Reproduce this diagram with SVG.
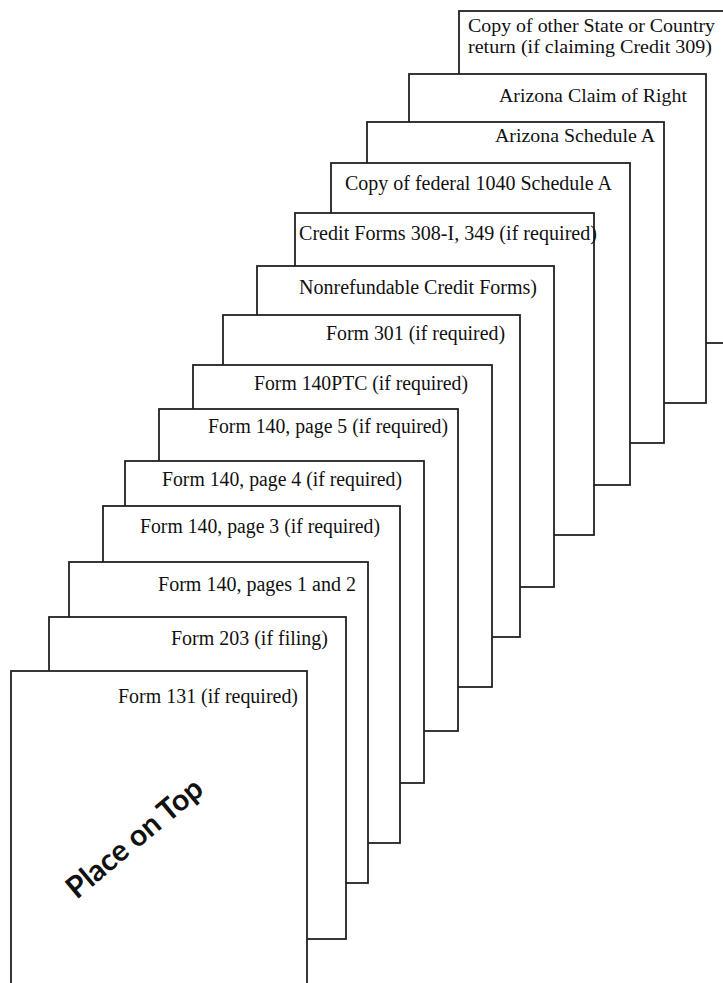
<svg xmlns="http://www.w3.org/2000/svg" width="723" height="983" viewBox="0 0 723 983">
<style>
.pg{fill:#fff;stroke:#222;stroke-width:1.8}
.t{font-family:"Liberation Serif","Times New Roman",serif;font-size:20px;fill:#111}
.s{font-size:18.5px}
.big{font-family:"Lato","Open Sans","Liberation Sans",sans-serif;font-weight:bold;font-size:30px;fill:#111}
</style>
<rect width="723" height="983" fill="#fff"/>
<g id="page-other-state">
<rect class="pg" x="459" y="11" width="298" height="332"/>
<text class="t s" x="468" y="32" textLength="247" lengthAdjust="spacingAndGlyphs">Copy of other State or Country</text>
<text class="t s" x="468" y="53" textLength="244" lengthAdjust="spacingAndGlyphs">return (if claiming Credit 309)</text>
</g>
<g id="page-claim-of-right">
<rect class="pg" x="409" y="74" width="297" height="329"/>
<text class="t s" x="499" y="102" textLength="188" lengthAdjust="spacingAndGlyphs">Arizona Claim of Right</text>
</g>
<g id="page-az-schedule-a">
<rect class="pg" x="367" y="122" width="297" height="321"/>
<text class="t s" x="495" y="142" textLength="160" lengthAdjust="spacingAndGlyphs">Arizona Schedule A</text>
</g>
<g id="page-federal-schedule-a">
<rect class="pg" x="331" y="163" width="299" height="322"/>
<text class="t" x="345" y="190" textLength="267" lengthAdjust="spacingAndGlyphs">Copy of federal 1040 Schedule A</text>
</g>
<g id="page-credit-forms">
<rect class="pg" x="295" y="213" width="299" height="322"/>
<text class="t" x="299" y="240" textLength="298" lengthAdjust="spacingAndGlyphs">Credit Forms 308-I, 349 (if required)</text>
</g>
<g id="page-nonrefundable">
<rect class="pg" x="257" y="266" width="297" height="321"/>
<text class="t" x="299" y="294" textLength="238" lengthAdjust="spacingAndGlyphs">Nonrefundable Credit Forms)</text>
</g>
<g id="page-form-301">
<rect class="pg" x="223" y="315" width="297" height="322"/>
<text class="t" x="326" y="340" textLength="179" lengthAdjust="spacingAndGlyphs">Form 301 (if required)</text>
</g>
<g id="page-form-140ptc">
<rect class="pg" x="193" y="365" width="299" height="322"/>
<text class="t" x="254" y="390" textLength="214" lengthAdjust="spacingAndGlyphs">Form 140PTC (if required)</text>
</g>
<g id="page-form-140-p5">
<rect class="pg" x="159" y="409" width="299" height="322"/>
<text class="t" x="208" y="433" textLength="240" lengthAdjust="spacingAndGlyphs">Form 140, page 5 (if required)</text>
</g>
<g id="page-form-140-p4">
<rect class="pg" x="125" y="461" width="299" height="322"/>
<text class="t" x="162" y="486" textLength="240" lengthAdjust="spacingAndGlyphs">Form 140, page 4 (if required)</text>
</g>
<g id="page-form-140-p3">
<rect class="pg" x="103" y="506" width="297" height="337"/>
<text class="t" x="140" y="533" textLength="240" lengthAdjust="spacingAndGlyphs">Form 140, page 3 (if required)</text>
</g>
<g id="page-form-140-p1-2">
<rect class="pg" x="69" y="562" width="299" height="321"/>
<text class="t" x="158" y="591" textLength="198" lengthAdjust="spacingAndGlyphs">Form 140, pages 1 and 2</text>
</g>
<g id="page-form-203">
<rect class="pg" x="49" y="617" width="297" height="322"/>
<text class="t" x="171" y="645" textLength="157" lengthAdjust="spacingAndGlyphs">Form 203 (if filing)</text>
</g>
<g id="page-form-131">
<rect class="pg" x="11" y="671" width="296" height="330"/>
<text class="t" x="118" y="703" textLength="180" lengthAdjust="spacingAndGlyphs">Form 131 (if required)</text>
<text class="big" transform="translate(141,846) rotate(-40)" text-anchor="middle">Place on Top</text>
</g>
</svg>
